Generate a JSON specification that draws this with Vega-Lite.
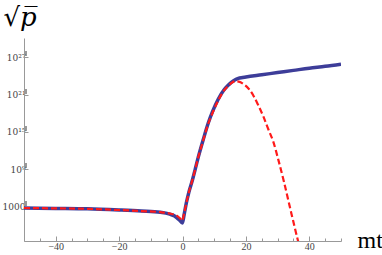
{
  "$schema": "https://vega.github.io/schema/vega-lite/v6.json",
  "width": 317,
  "height": 203,
  "autosize": {"type": "none"},
  "padding": {"left": 24, "top": 38, "right": 41, "bottom": 14},
  "background": "white",
  "config": {"view": {"stroke": null}},
  "data": {
    "values": [
      {"mt": -50, "p": 617, "series": "exact"},
      {"mt": -40, "p": 537, "series": "exact"},
      {"mt": -30, "p": 457, "series": "exact"},
      {"mt": -20, "p": 295, "series": "exact"},
      {"mt": -13, "p": 200, "series": "exact"},
      {"mt": -7, "p": 126, "series": "exact"},
      {"mt": -4, "p": 63.1, "series": "exact"},
      {"mt": -2.5, "p": 31.6, "series": "exact"},
      {"mt": -1.5, "p": 12.6, "series": "exact"},
      {"mt": -0.8, "p": 6.31, "series": "exact"},
      {"mt": -0.2, "p": 2.82, "series": "exact"},
      {"mt": 0, "p": 2.5, "series": "exact"},
      {"mt": 0.5, "p": 50.1, "series": "exact"},
      {"mt": 1.3, "p": 6310, "series": "exact"},
      {"mt": 2, "p": 2.0e5, "series": "exact"},
      {"mt": 3.2, "p": 2.51e7, "series": "exact"},
      {"mt": 4, "p": 1e9, "series": "exact"},
      {"mt": 5, "p": 1e11, "series": "exact"},
      {"mt": 6.5, "p": 5.01e13, "series": "exact"},
      {"mt": 8.1, "p": 2.51e16, "series": "exact"},
      {"mt": 9.5, "p": 2.0e18, "series": "exact"},
      {"mt": 11.3, "p": 2.0e20, "series": "exact"},
      {"mt": 13, "p": 5.01e21, "series": "exact"},
      {"mt": 14.4, "p": 3.16e22, "series": "exact"},
      {"mt": 15.5, "p": 1e23, "series": "exact"},
      {"mt": 16.5, "p": 2.24e23, "series": "exact"},
      {"mt": 17.6, "p": 3.98e23, "series": "exact"},
      {"mt": 19, "p": 5.62e23, "series": "exact"},
      {"mt": 20, "p": 7.08e23, "series": "exact"},
      {"mt": 25, "p": 1.58e24, "series": "exact"},
      {"mt": 30, "p": 3.55e24, "series": "exact"},
      {"mt": 35, "p": 7.94e24, "series": "exact"},
      {"mt": 40, "p": 1.78e25, "series": "exact"},
      {"mt": 45, "p": 3.55e25, "series": "exact"},
      {"mt": 50, "p": 7.94e25, "series": "exact"},
      {"mt": -50, "p": 617, "series": "approx"},
      {"mt": -40, "p": 537, "series": "approx"},
      {"mt": -30, "p": 457, "series": "approx"},
      {"mt": -20, "p": 295, "series": "approx"},
      {"mt": -13, "p": 200, "series": "approx"},
      {"mt": -7, "p": 132, "series": "approx"},
      {"mt": -4, "p": 79.4, "series": "approx"},
      {"mt": -2.5, "p": 50.1, "series": "approx"},
      {"mt": -1.5, "p": 28.2, "series": "approx"},
      {"mt": -0.8, "p": 14.1, "series": "approx"},
      {"mt": -0.1, "p": 5.62, "series": "approx"},
      {"mt": 0.5, "p": 79.4, "series": "approx"},
      {"mt": 1.3, "p": 6310, "series": "approx"},
      {"mt": 2, "p": 2.0e5, "series": "approx"},
      {"mt": 3.2, "p": 2.51e7, "series": "approx"},
      {"mt": 4, "p": 1e9, "series": "approx"},
      {"mt": 5, "p": 1e11, "series": "approx"},
      {"mt": 6.5, "p": 3.98e13, "series": "approx"},
      {"mt": 8.1, "p": 2.0e16, "series": "approx"},
      {"mt": 9.5, "p": 1.26e18, "series": "approx"},
      {"mt": 11.3, "p": 1.26e20, "series": "approx"},
      {"mt": 13, "p": 3.98e21, "series": "approx"},
      {"mt": 14.4, "p": 2.51e22, "series": "approx"},
      {"mt": 15.5, "p": 7.94e22, "series": "approx"},
      {"mt": 16.7, "p": 1.41e23, "series": "approx"},
      {"mt": 18, "p": 1.12e23, "series": "approx"},
      {"mt": 19.5, "p": 3.98e22, "series": "approx"},
      {"mt": 20.8, "p": 1e22, "series": "approx"},
      {"mt": 22.3, "p": 7.94e20, "series": "approx"},
      {"mt": 23.9, "p": 2.0e19, "series": "approx"},
      {"mt": 25.5, "p": 3.16e17, "series": "approx"},
      {"mt": 27.1, "p": 2.51e15, "series": "approx"},
      {"mt": 28.6, "p": 3.16e13, "series": "approx"},
      {"mt": 30.2, "p": 3.98e10, "series": "approx"},
      {"mt": 32, "p": 1e7, "series": "approx"},
      {"mt": 34.4, "p": 63.1, "series": "approx"},
      {"mt": 36.5, "p": 0.00251, "series": "approx"},
      {"mt": 37.5, "p": 0.0000316, "series": "approx"}
    ]
  },
  "encoding": {
    "x": {
      "field": "mt",
      "type": "quantitative",
      "scale": {"domain": [-50, 50], "nice": false, "zero": false},
      "axis": {
        "values": [-50, -45, -40, -35, -30, -25, -20, -15, -10, -5, 0, 5, 10, 15, 20, 25, 30, 35, 40, 45, 50],
        "labelExpr": "datum.value % 20 == 0 ? datum.label : ''",
        "tickSize": {"condition": {"test": "datum.value % 20 == 0", "value": -5}, "value": -3},
        "labelPadding": 5,
        "labelFont": "Liberation Serif",
        "labelFontSize": 10,
        "labelColor": "#444444",
        "labelFlush": false,
        "labelOverlap": false,
        "domainColor": "#999999",
        "tickColor": "#999999",
        "grid": false,
        "title": "mt",
        "titleFont": "Liberation Serif",
        "titleFontSize": 24,
        "titleFontWeight": "normal",
        "titleColor": "black",
        "titleX": 333,
        "titleY": 6.5,
        "titleAlign": "left",
        "titleBaseline": "alphabetic",
        "titleAnchor": null
      }
    },
    "y": {
      "field": "p",
      "type": "quantitative",
      "scale": {"type": "log", "domain": [0.00309, 1.26e30], "nice": false},
      "axis": {
        "values": [1000, 2000, 3000, 4000, 5000, 6000, 7000, 8000, 9000,
                   1e9, 2e9, 3e9, 4e9, 5e9, 6e9, 7e9, 8e9, 9e9,
                   1e15, 2e15, 3e15, 4e15, 5e15, 6e15, 7e15, 8e15, 9e15,
                   1e21, 2e21, 3e21, 4e21, 5e21, 6e21, 7e21, 8e21, 9e21,
                   1e27, 2e27, 3e27, 4e27, 5e27, 6e27, 7e27, 8e27, 9e27],
        "labelExpr": "datum.value == 1000 ? '1000' : datum.value == 1e9 ? '10⁹' : datum.value == 1e15 ? '10¹⁵' : datum.value == 1e21 ? '10²¹' : datum.value == 1e27 ? '10²⁷' : ''",
        "tickSize": {"condition": {"test": "datum.value == 1000 || datum.value == 1e9 || datum.value == 1e15 || datum.value == 1e21 || datum.value == 1e27", "value": -4}, "value": -2.5},
        "labelPadding": 3,
        "labelFont": "DejaVu Serif",
        "labelFontSize": 9,
        "labelColor": "#444444",
        "labelFlush": false,
        "labelOverlap": false,
        "domainColor": "#999999",
        "tickColor": "#999999",
        "grid": false,
        "title": "√p̅",
        "titleFont": "DejaVu Serif",
        "titleFontSize": 26,
        "titleFontStyle": "italic",
        "titleFontWeight": "normal",
        "titleColor": "black",
        "titleAngle": 0,
        "titleX": -21,
        "titleY": -13,
        "titleAlign": "left",
        "titleBaseline": "alphabetic",
        "titleAnchor": null
      }
    }
  },
  "layer": [
    {
      "transform": [{"filter": "datum.series == 'exact'"}],
      "mark": {"type": "line", "color": "#3D3D99", "strokeWidth": 3.5, "interpolate": "monotone", "clip": true}
    },
    {
      "transform": [{"filter": "datum.series == 'approx'"}],
      "mark": {"type": "line", "color": "#FF1A1A", "strokeWidth": 2.2, "strokeDash": [6, 3], "interpolate": "monotone", "clip": true}
    }
  ]
}
